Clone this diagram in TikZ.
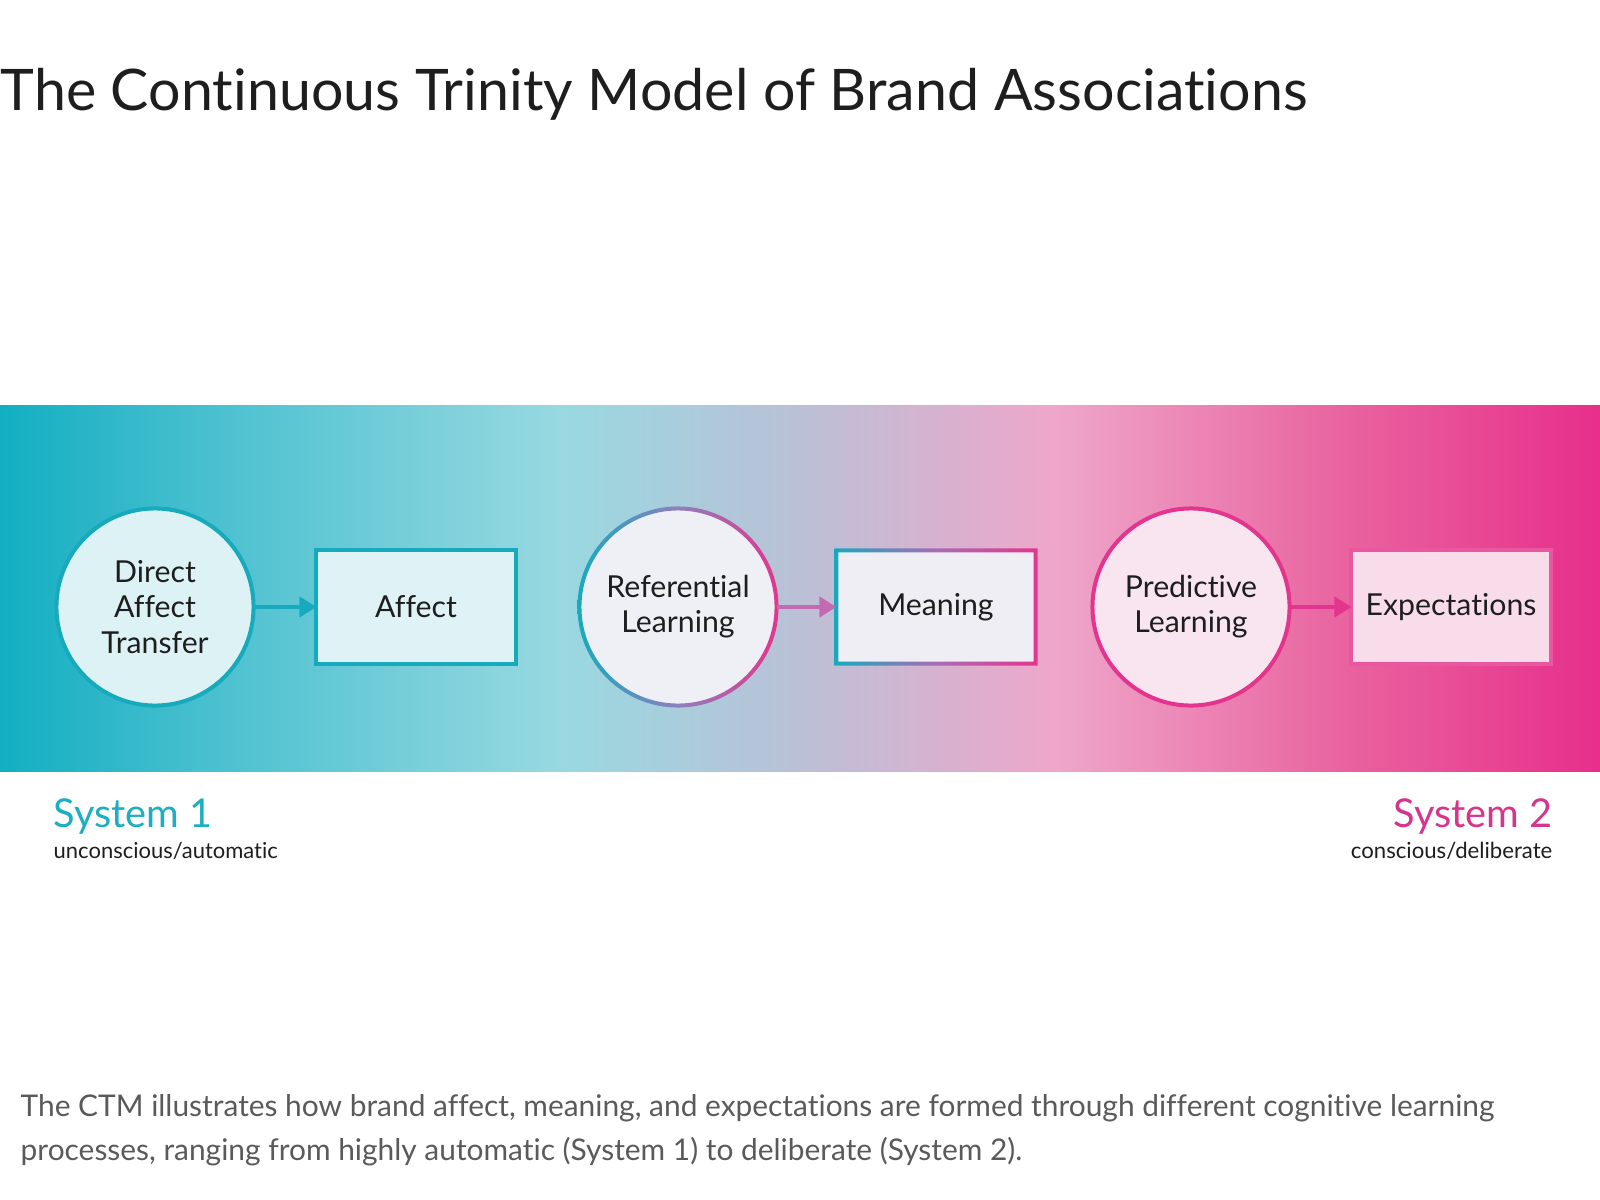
\documentclass[tikz,border=0pt]{standalone}
\usepackage{fontspec}
\setmainfont{Lato}[Ligatures=NoCommon]
\usetikzlibrary{arrows.meta,calc}
\definecolor{teal1}{HTML}{17AABD}
\definecolor{magenta1}{HTML}{E3358E}
\definecolor{pinkb}{HTML}{E8579F}
\definecolor{titlec}{HTML}{1E1E1E}
\definecolor{capc}{HTML}{5A5A5A}
\definecolor{sysone}{HTML}{1CAFC1}
\definecolor{systwo}{HTML}{D6358C}
\definecolor{arrowmid}{HTML}{C46AB2}
\definecolor{bandA}{HTML}{12AEC2}
\definecolor{bandB}{HTML}{4DC1D0}
\definecolor{bandC}{HTML}{98D9E1}
\definecolor{bandD}{HTML}{BBC0D6}
\definecolor{bandE}{HTML}{EEA6CA}
\definecolor{bandF}{HTML}{E9639F}
\definecolor{bandG}{HTML}{E72F8B}
\definecolor{fillA}{HTML}{DDF2F5}
\definecolor{fillB}{HTML}{DFF3F6}
\definecolor{fillC}{HTML}{EEF0F6}
\definecolor{fillD}{HTML}{F0EEF5}
\definecolor{fillE}{HTML}{F8E5EF}
\definecolor{fillF}{HTML}{F9DCEA}
\definecolor{midA}{HTML}{8E7FBE}
\definecolor{midB}{HTML}{A96CB5}
\pgfdeclarehorizontalshading{bandshade}{100bp}{%
  color(0bp)=(bandA);
  color(25bp)=(bandA);
  color(32bp)=(bandB);
  color(42.5bp)=(bandC);
  color(50bp)=(bandD);
  color(58bp)=(bandE);
  color(67bp)=(bandF);
  color(75bp)=(bandG);
  color(100bp)=(bandG)}
\tikzset{
  circnode/.style={circle, minimum size=1.97cm, inner sep=0pt, outer sep=0pt,
    line width=0.04cm, align=center, font=\fontsize{8.6pt}{10pt}\selectfont, text=titlec},
  boxnode/.style={rectangle, minimum width=1.99cm, minimum height=1.13cm, inner sep=0pt, outer sep=0pt,
    line width=0.04cm, align=center, font=\fontsize{8.6pt}{10pt}\selectfont, text=titlec},
  flow/.style={line width=0.04cm, -{Triangle[length=0.17cm,width=0.2cm]}},
}
\begin{document}
\begin{tikzpicture}[x=0.01cm,y=-0.01cm]
\useasboundingbox (0,0) rectangle (1600,1200);
\fill[white] (0,0) rectangle (1600,1200);
% band
\shade[shading=bandshade] (0,405) rectangle (1600,771);
% title
\node[anchor=base west, inner sep=0pt, text=titlec, font=\fontsize{16.3pt}{20pt}\selectfont] (title) at (0,110) {The Continuous Trinity Model of Brand Associations};
% nodes
\node[circnode, draw=teal1, fill=fillA] (c1) at (155,607) {Direct\\Affect\\Transfer};
\node[boxnode, draw=teal1, fill=fillB] (b1) at (416,607) {Affect};
\node[circnode, fill=fillC] (c2) at (678,607) {Referential\\Learning};
\shade[left color=teal1, right color=magenta1, middle color=midA, even odd rule]
  (c2.center) circle[radius=1.005cm] (c2.center) circle[radius=0.965cm];
\node[boxnode, fill=fillD] (b2) at (936,607) {Meaning};
\shade[left color=teal1, right color=magenta1, middle color=midB, even odd rule]
  ([xshift=-0.02cm,yshift=-0.02cm]b2.south west) rectangle ([xshift=0.02cm,yshift=0.02cm]b2.north east)
  ([xshift=0.02cm,yshift=0.02cm]b2.south west) rectangle ([xshift=-0.02cm,yshift=-0.02cm]b2.north east);
\node[circnode, draw=magenta1, fill=fillE] (c3) at (1191,607) {Predictive\\Learning};
\node[boxnode, draw=pinkb, fill=fillF] (b3) at (1451,607) {Expectations};
% arrows
\draw[flow, draw=teal1, fill=teal1] (c1.east) -- (b1.west);
\draw[flow, draw=arrowmid, fill=arrowmid] (c2.east) -- (b2.west);
\draw[flow, draw=magenta1, fill=magenta1] (c3.east) -- (b3.west);
% system labels
\node[anchor=base west, inner sep=0pt, text=sysone, font=\fontsize{11.3pt}{14pt}\selectfont] (s1) at (53,827) {System 1};
\node[anchor=base west, inner sep=0pt, text=titlec, font=\fontsize{6.25pt}{8pt}\selectfont] (s1b) at (53,858) {unconscious/automatic};
\node[anchor=base east, inner sep=0pt, text=systwo, font=\fontsize{11.3pt}{14pt}\selectfont] (s2) at (1553,827) {System 2};
\node[anchor=base east, inner sep=0pt, text=titlec, font=\fontsize{6.3pt}{8pt}\selectfont] (s2b) at (1553,858) {conscious/deliberate};
% caption
\node[anchor=base west, inner sep=0pt, text=capc, font=\fontsize{8.5pt}{12.5pt}\selectfont] (cap1) at (20,1116) {The CTM illustrates how brand affect, meaning, and expectations are formed through different cognitive learning};
\node[anchor=base west, inner sep=0pt, text=capc, font=\fontsize{8.5pt}{12.5pt}\selectfont] (cap2) at (20,1160) {processes, ranging from highly automatic (System 1) to deliberate (System 2).};
\end{tikzpicture}
\end{document}
